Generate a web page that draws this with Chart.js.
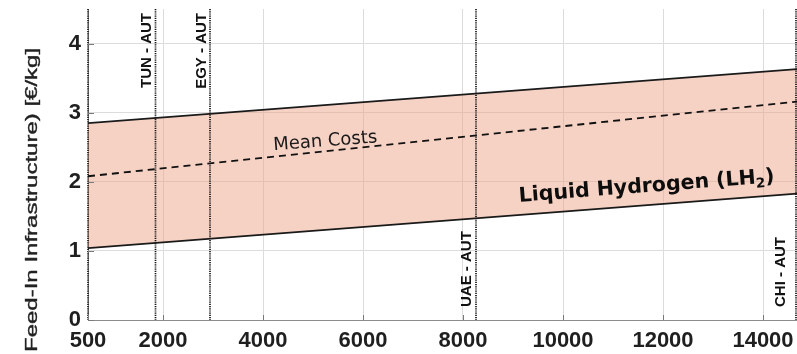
<!DOCTYPE html>
<html>
<head>
<meta charset="utf-8">
<script src="https://cdn.jsdelivr.net/npm/chart.js@4/dist/chart.umd.min.js"></script>
<style>
  html, body { margin: 0; padding: 0; background: #ffffff; }
  #wrap { width: 797px; height: 354px; }
</style>
</head>
<body>
<div id="wrap"><canvas id="c" width="797" height="354"></canvas></div>
<script>
// Transport distance (km) at the two ends of the cost band
const distanceKm = [500, 14680];
// Cost band for liquid hydrogen, €/kg
const upperCost = [2.85, 3.63];
const meanCost = [2.08, 3.16];
const lowerCost = [1.04, 1.83];

// Axis ticks
const xTickValues = [500, 2000, 4000, 6000, 8000, 10000, 12000, 14000];
const yTickValues = [0, 1, 2, 3, 4];

// Supply routes marked as vertical reference lines
const routeNames = ['', 'TUN - AUT', 'EGY - AUT', 'UAE - AUT', 'CHI - AUT'];
const routeDistance = [500, 1850, 2940, 8260, 14660];

// Texts
const yAxisTitle = 'Feed-In Infrastructure) [€/kg]';
const bandLabel = 'Liquid Hydrogen (LH';
const bandLabelSub = '2';
const bandLabelEnd = ')';
const meanLabel = 'Mean Costs';

// Layout of the route labels: which end of the line, and gap to the line (px)
const routeLabelSide = ['top', 'top', 'top', 'bottom', 'bottom'];
const routeLabelGap = [5, 5, 4, 5, 11];

const toPoints = (xs, ys) => xs.map((v, i) => ({ x: v, y: ys[i] }));

const TICK_FONT = { family: '"Liberation Sans", Arial, sans-serif', size: 22, weight: 'bold' };

// Inward tick marks along the axes
const innerTicks = {
  id: 'innerTicks',
  afterDraw(chart) {
    const { ctx, chartArea: a, scales: { x, y } } = chart;
    ctx.save();
    ctx.strokeStyle = '#7a7a7a';
    ctx.lineWidth = 1;
    x.ticks.forEach(t => {
      const px = Math.round(x.getPixelForValue(t.value)) + 0.5;
      ctx.beginPath(); ctx.moveTo(px, a.bottom); ctx.lineTo(px, a.bottom - 5); ctx.stroke();
    });
    y.ticks.forEach(t => {
      const py = Math.round(y.getPixelForValue(t.value)) + 0.5;
      ctx.beginPath(); ctx.moveTo(a.left, py); ctx.lineTo(a.left + 6, py); ctx.stroke();
    });
    ctx.restore();
  }
};

// Dotted route lines with their rotated labels, and the in-plot texts
const overlays = {
  id: 'overlays',
  afterDatasetsDraw(chart) {
    const { ctx, chartArea: a, scales: { x, y } } = chart;
    ctx.save();

    // route lines
    ctx.strokeStyle = '#151515';
    ctx.lineWidth = 1.7;
    ctx.setLineDash([1.2, 1]);
    routeDistance.forEach(d => {
      const px = x.getPixelForValue(d);
      ctx.beginPath(); ctx.moveTo(px, a.top); ctx.lineTo(px, a.bottom); ctx.stroke();
    });
    ctx.setLineDash([]);

    // route labels
    ctx.fillStyle = '#111111';
    ctx.font = 'bold 15px "Liberation Sans", Arial, sans-serif';
    ctx.textBaseline = 'alphabetic';
    routeNames.forEach((name, i) => {
      if (!name) return;
      const px = x.getPixelForValue(routeDistance[i]) - routeLabelGap[i];
      ctx.save();
      if (routeLabelSide[i] === 'top') {
        ctx.translate(px, a.top + 4);
        ctx.rotate(-Math.PI / 2);
        ctx.textAlign = 'right';
      } else {
        ctx.translate(px, a.bottom - 13);
        ctx.rotate(-Math.PI / 2);
        ctx.textAlign = 'left';
      }
      ctx.fillText(name, 0, 0);
      ctx.restore();
    });

    // slope of the band edges in pixel space
    const x0 = x.getPixelForValue(distanceKm[0]), x1 = x.getPixelForValue(distanceKm[1]);
    const slopeAngle = Math.atan2(
      y.getPixelForValue(lowerCost[1]) - y.getPixelForValue(lowerCost[0]), x1 - x0);
    const along = (vals, dist) => {
      const t = (dist - distanceKm[0]) / (distanceKm[1] - distanceKm[0]);
      return y.getPixelForValue(vals[0] + (vals[1] - vals[0]) * t);
    };

    // "Mean Costs" just above the dashed line
    ctx.save();
    ctx.translate(x.getPixelForValue(5260), along(meanCost, 5260));
    ctx.rotate(slopeAngle);
    ctx.font = '18px "DejaVu Sans", sans-serif';
    ctx.fillStyle = '#1a1a1a';
    ctx.textAlign = 'center';
    ctx.fillText(meanLabel, 0, -5);
    ctx.restore();

    // band name above the lower edge
    ctx.save();
    ctx.translate(x.getPixelForValue(11700), along(lowerCost, 11700));
    ctx.rotate(slopeAngle);
    ctx.fillStyle = '#0d0d0d';
    ctx.textAlign = 'left';
    const mainFont = 'bold 20.5px "DejaVu Sans", sans-serif';
    const subFont = 'bold 13.5px "DejaVu Sans", sans-serif';
    ctx.font = mainFont; const w1 = ctx.measureText(bandLabel).width;
    const w3 = ctx.measureText(bandLabelEnd).width;
    ctx.font = subFont; const w2 = ctx.measureText(bandLabelSub).width;
    let cx = -(w1 + w2 + w3) / 2;
    const base = -13;
    ctx.font = mainFont; ctx.fillText(bandLabel, cx, base); cx += w1;
    ctx.font = subFont; ctx.fillText(bandLabelSub, cx, base + 4); cx += w2;
    ctx.font = mainFont; ctx.fillText(bandLabelEnd, cx, base);
    ctx.restore();

    ctx.restore();
  }
};

// Rotated y-axis title in the left margin
const yTitle = {
  id: 'yTitle',
  afterDraw(chart) {
    const { ctx } = chart;
    ctx.save();
    ctx.translate(37, 352);
    ctx.rotate(-Math.PI / 2);
    ctx.scale(1, 0.7);
    ctx.font = '24px "Liberation Sans", Arial, sans-serif';
    ctx.fillStyle = '#222222';
    ctx.strokeStyle = '#222222';
    ctx.lineWidth = 0.5;
    ctx.textAlign = 'left';
    ctx.textBaseline = 'alphabetic';
    ctx.fillText(yAxisTitle, 0, 0);
    ctx.strokeText(yAxisTitle, 0, 0);
    ctx.restore();
  }
};

new Chart(document.getElementById('c'), {
  type: 'line',
  data: {
    datasets: [
      {
        data: toPoints(distanceKm, upperCost),
        borderColor: '#1a1a1a',
        borderWidth: 1.8,
        backgroundColor: 'rgba(236, 160, 132, 0.48)',
        fill: 2,
        pointRadius: 0,
        tension: 0
      },
      {
        data: toPoints(distanceKm, meanCost),
        borderColor: '#111111',
        borderWidth: 1.8,
        borderDash: [7, 5],
        fill: false,
        pointRadius: 0,
        tension: 0
      },
      {
        data: toPoints(distanceKm, lowerCost),
        borderColor: '#1a1a1a',
        borderWidth: 1.8,
        fill: false,
        pointRadius: 0,
        tension: 0
      }
    ]
  },
  options: {
    responsive: false,
    animation: false,
    devicePixelRatio: 1,
    layout: { padding: { top: 9, left: 0, right: 0, bottom: 0 } },
    plugins: {
      legend: { display: false },
      tooltip: { enabled: false },
      filler: { drawTime: 'beforeDatasetsDraw' }
    },
    scales: {
      x: {
        type: 'linear',
        min: distanceKm[0],
        max: distanceKm[1],
        afterBuildTicks: s => { s.ticks = xTickValues.map(v => ({ value: v })); },
        afterFit: s => { s.height = 34; s.paddingLeft = 0; s.paddingRight = 0; },
        ticks: {
          font: TICK_FONT, color: '#1f1f1f', padding: 8, maxRotation: 0, autoSkip: false,
          callback: v => String(v)
        },
        grid: { color: '#dcdcdc', lineWidth: 1, drawTicks: false },
        border: { color: '#8c8c8c', width: 1 }
      },
      y: {
        min: 0,
        max: 4.5,
        afterBuildTicks: s => { s.ticks = yTickValues.map(v => ({ value: v })); },
        afterFit: s => { s.width = 88; s.paddingTop = 0; s.paddingBottom = 0; },
        ticks: { font: TICK_FONT, color: '#1f1f1f', padding: 7, callback: v => String(v) },
        grid: { color: '#dcdcdc', lineWidth: 1, drawTicks: false },
        border: { color: '#8c8c8c', width: 1 }
      }
    }
  },
  plugins: [innerTicks, overlays, yTitle]
});
</script>
</body>
</html>
